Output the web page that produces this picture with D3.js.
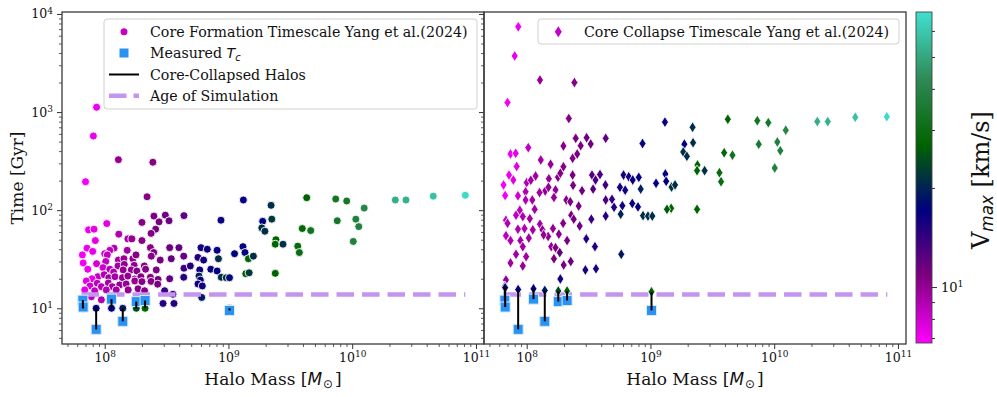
<!DOCTYPE html>
<html><head><meta charset="utf-8">
<script src="https://cdn.jsdelivr.net/npm/d3@7"></script>
<style>body{margin:0;background:#fff}svg{display:block}</style>
</head><body>
<svg id="chart" width="997" height="397"></svg>
<script>
// ---------------- DATA ----------------
// Left panel: core formation timescale (mass in 1e8 Msun, time in Gyr, Vmax in km/s)
const formMassE8 = [
 0.86,0.81,1.29,2.45,0.70,2.20,13.2,2.50,3.09,4.37,
 2.00,2.75,3.31,1.04,8.70,0.74,0.82,2.58,1.30,2.37,
 0.84,1.54,1.66,2.00,0.72,0.80,1.19,1.10,1.52,2.34,
 2.49,3.35,3.98,6.00,6.75,8.10,13.1,13.6,14.5,8.30,
 11.2,0.66,1.00,1.05,1.29,1.43,1.69,1.79,2.38,3.45,
 4.35,5.67,6.30,0.67,0.86,1.02,1.28,1.44,1.73,2.09,
 2.81,0.73,0.97,1.10,1.18,1.41,1.64,1.82,2.14,2.61,
 4.37,4.92,5.86,7.20,8.10,13.8,0.88,0.79,0.71,0.99,
 1.08,1.21,1.39,1.54,1.75,1.96,2.34,2.70,3.35,4.35,
 5.78,5.93,8.75,9.60,10.2,0.87,0.76,0.94,1.07,1.15,
 1.32,1.49,1.75,2.00,2.37,2.68,5.67,6.15,0.69,0.83,
 1.03,1.24,1.55,1.86,2.10,3.05,3.56,6.08,0.78,0.94,
 2.96,3.63,22.1,22.4,18.9,18.6,19.7,42.9,39.5,46.2,
 73.6,90.3,125,75.7,107,113,102,223,272,452,
 820,15.9,24.2,23.9,27.6,36.3,37.4,14.7,23.9];
const formTime = [
 1120,570,327,308,195,137,127,87,89,88,
 75,76,78,73,79,63,64,64,57,58,
 49,51,51,49,41,38,41,39,39,41.5,
 37,41.5,41.5,41.5,40,39,42.5,37,32,32,
 36,35,36,35,31,32,32,35,34,32,
 34,33,31,29,28.5,30,27,28,27.4,27,
 31,25,26,25,23.4,24.6,24.6,24,25,24.6,
 25.6,27,24.6,25,24,22.5,21,20,19,22,
 20.5,21,20.5,21.3,19.9,21,20.7,19.7,20,20.7,
 21.3,19.4,20.7,20.5,20.5,18,16.9,16.6,18.1,16.6,
 17.3,17.7,19,18.7,18.8,17.6,17.7,16.9,15.4,15.1,
 15.4,15.4,15.4,15.8,15.1,15.1,13.9,12.9,13.1,12.2,
 11.2,11.2,112,81,77,66,61,134,65,62,
 130,124,105,78,81,68,48,127,127,139,
 142,34,50,45,45,43,37,23,22.7];
const formVmax = [
 7.2,7.3,10,10.5,7,10.5,16.5,11,11.5,12,
 10.5,11,11.5,7.5,16.5,7.2,7.4,11,9,10.5,
 7.4,9.5,10,10.5,7.2,7.4,9,8.5,9.5,10.5,
 11,11.5,12,16,16.5,16.5,17,17,27,21,
 17,7,8,8.5,9.5,10,10,10.5,10.5,12,
 12,15,16,7,8,8.5,9.5,10,10,10.5,
 11,7.2,8,9,9,10,10,10.5,10.5,11,
 14,15,16,16.5,17,27,8.5,7.5,7.5,9,
 9.5,9.5,10,10,10,10.5,10.5,11,12,15,
 20,17,21,21,18,8.5,8,9,9.5,9.5,
 10,10,10,10.5,10.5,11,16,16,7.5,8.5,
 9,9.5,10,10.5,10.5,14,14,19,8.5,9,
 15,15,21,22,17,21,21,27,28,32,
 33,34,40,34,38,38,38,52,53,58,
 66,21,27,27,21,29,30,22,27];

// Right panel: core collapse timescale
const collMassE8 = [
 0.855,0.80,1.28,2.43,0.70,2.19,13.1,21.9,42.2,73,
 89.6,124,223,271,452,813,8.63,18.8,22.1,18.4,
 19.7,39.4,46,75,106,112,101,24,23.8,27.4,
 36.1,37.2,14.8,15.8,14.7,23.8,11.1,13.2,13.4,4.35,
 3.05,3.29,2.49,2.73,1.98,2.35,2.56,1.03,0.74,0.815,
 0.83,1.3,1.56,1.98,0.72,0.78,0.65,0.67,1.0,1.08,
 1.18,1.51,1.79,1.87,2.35,3.37,3.6,3.91,4.33,6.06,
 6.68,7.19,8.05,5.67,6.25,8.34,1.71,1.66,1.41,1.27,
 0.98,0.98,1.11,1.16,0.88,0.82,0.68,0.70,0.93,1.06,
 2.37,2.8,3.44,0.85,4.35,4.89,5.08,5.93,7.13,7.93,
 5.75,8.71,9.55,10.35,13.6,2.09,2.25,2.63,3.33,4.35,
 2.29,2.4,2.68,1.97,1.82,2.12,1.63,1.49,1.58,1.71,
 1.28,1.34,1.37,1.12,1.04,0.96,0.85,0.68,0.74,0.89,
 0.93,0.82,0.99,0.74,0.93,1.66,1.85,1.99,2.27,3.03,
 3.56,2.98,3.63,5.81,0.68,1.87,1.5];
const collTime = [
 7400,3730,2120,2000,1250,860,790,700,845,817,
 780,654,800,800,885,897,478,471,487,392,
 354,385,364,470,495,404,269,289,253,253,
 241,195,172,181,104.5,102,188,234,197,540,
 548,473,540,454,451,338,374,434,374,380,
 279,325,294,277,228,203,181,141,191,202,
 223,209,217,238,228,228,203,231,181,228,
 219,203,216,171,160,164,161,135,157,151,
 154,127,127,102,100,89,79,73.5,86,82,
 179,158,164,140,127,129,107,111,117,108,
 91,88,87,87,102,127,122,110,81,87,
 89,81,69,73.5,57,49,65,54,42.5,41.5,
 72,63,56,63,52,65,64,55,49,49,
 42.5,35.5,33.6,29,27,32,37,27.6,30,51,
 42.5,24.6,25.3,35.5,19.4,19.9,171];
const collVmax = [
 7.2,7.3,10,10.5,7,10.5,16.5,21,27,33,
 34,40,52,53,58,66,16.5,17,21,21,
 21,28,32,35,38,38,38,27,27,21,
 29,30,22,21,27,27,17,17,17,12,
 11.5,11.5,11,11,10.5,10.5,11,8.5,7.3,7.5,
 7.5,9.5,10,10.5,7.3,7.5,7,7,9,9.5,
 9.5,10,10.5,10.5,11,12.5,13,13,13.5,16,
 16,16.5,16.5,16,16,20,10,10,10,9.5,
 9,9,9.5,9.5,8.5,8.5,8.5,9,9,9.5,
 11,11.5,12.5,8,13,14,15,16,16.5,16.5,
 20,21,21,21,26,10.5,11,11,14,15,
 11,11,11.5,10.5,10.5,11,10,10,10,10.5,
 9.5,10,10,9.5,9.5,9,9,8.5,9,9.5,
 9.5,9.5,9.5,9.5,10,11,12,11,11.5,15,
 15,15.5,15.5,19,10,16,10];

// Core-collapsed halos
const ccMassE8     = [0.666, 0.67, 0.853, 1.135, 1.40, 1.80, 2.12, 10.2];
const ccFormTime   = [10, 10, 10, 10, 10, 10, 10, 10];
const ccCollTime   = [16.7, 16.2, 15.5, 15.8, 15.2, 15.0, 15.0, 14.7];
const ccMeasuredTc = [12.1, 10.3, 6.1, 12.4, 7.36, 11.7, 12.0, 9.5];
const ccVmax       = [18, 18, 17, 17, 19, 24, 27, 27];

const ageOfSimulation = 13.8; // Gyr

const xTickValues = [1e8, 1e9, 1e10, 1e11];
const yTickValues = [1e1, 1e2, 1e3, 1e4];
const cbarTickValues = [10];
const vmaxRange = [6.76, 68.5];
const cmapColors = ["#ff00ff", "#800080", "#000080", "#006400", "#2e8b57", "#40e0d0"];

const legendLeft = ["Core Formation Timescale Yang et al.(2024)", "Measured", "Core-Collapsed Halos", "Age of Simulation"];
const legendRight = ["Core Collapse Timescale Yang et al.(2024)"];

// ---------------- LAYOUT ----------------
const SERIF = "'DejaVu Serif', serif";
const SANS = "'DejaVu Sans', sans-serif";
const plotTop = 12, plotW = 422, plotH = 332;
const panelLeftX = [62, 484];
const svg = d3.select("#chart");

const x = d3.scaleLog().domain([Math.pow(10, 7.655), Math.pow(10, 11.065)]).range([0, plotW]);
const y = d3.scaleLog().domain([Math.pow(10, 0.636), Math.pow(10, 4.02)]).range([plotH, 0]);

const cNorm = d3.scaleLog().domain(vmaxRange).range([0, 1]).clamp(true);
const cInterp = d3.scaleLinear().domain(d3.range(cmapColors.length).map(i => i / (cmapColors.length - 1)))
  .range(cmapColors).interpolate(d3.interpolateRgb);
const color = v => cInterp(cNorm(v));

function minorTicks(scale) {
  const [a, b] = scale.domain();
  const out = [];
  for (let d = Math.floor(Math.log10(a)); d <= Math.ceil(Math.log10(b)); d++)
    for (let k = 2; k <= 9; k++) { const v = k * Math.pow(10, d); if (v >= a && v <= b) out.push(v); }
  return out;
}
function powLabel(sel) {
  sel.each(function(d) {
    const t = d3.select(this); t.text(null);
    t.append("tspan").text("10");
    t.append("tspan").attr("dy", "-0.5em").attr("font-size", "0.72em").text(Math.round(Math.log10(d)));
  });
}

const formData = formMassE8.map((m, i) => ({m: m * 1e8, t: formTime[i], v: formVmax[i]}));
const collData = collMassE8.map((m, i) => ({m: m * 1e8, t: collTime[i], v: collVmax[i]}));
const ccData = ccMassE8.map((m, i) => ({m: m * 1e8, tf: ccFormTime[i], tc: ccCollTime[i], tm: ccMeasuredTc[i], v: ccVmax[i]}));
const massExtent = d3.extent(formData.concat(collData), d => d.m);

const diamond = "M0,-5.5L3.5,0L0,5.5L-3.5,0Z";

function drawPanel(px, data, isLeft) {
  const g = svg.append("g").attr("transform", `translate(${px},${plotTop})`);
  // x axis major/minor
  const xa = g.append("g").attr("transform", `translate(0,${plotH})`)
    .call(d3.axisBottom(x).tickValues(minorTicks(x)).tickSize(3).tickFormat(""));
  xa.select(".domain").remove();
  xa.selectAll("line").attr("stroke", "#333").attr("stroke-width", 0.8);
  const xb = g.append("g").attr("transform", `translate(0,${plotH})`)
    .call(d3.axisBottom(x).tickValues(xTickValues).tickSize(5).tickPadding(4));
  xb.select(".domain").remove();
  xb.selectAll("line").attr("stroke", "#333").attr("stroke-width", 1);
  xb.selectAll("text").attr("font-family", SERIF).attr("font-size", 12.5).attr("fill", "#111").call(powLabel);
  // y axis
  const ya = g.append("g").call(d3.axisLeft(y).tickValues(minorTicks(y)).tickSize(3).tickFormat(""));
  ya.select(".domain").remove();
  ya.selectAll("line").attr("stroke", "#333").attr("stroke-width", 0.8);
  const yb = g.append("g").call(d3.axisLeft(y).tickValues(yTickValues).tickSize(5).tickPadding(4)
    .tickFormat(isLeft ? null : ""));
  yb.select(".domain").remove();
  yb.selectAll("line").attr("stroke", "#333").attr("stroke-width", 1);
  if (isLeft) yb.selectAll("text").attr("font-family", SERIF).attr("font-size", 12.5).attr("fill", "#111").call(powLabel);

  // scatter
  if (isLeft) {
    g.append("g").selectAll("circle").data(data).join("circle")
      .attr("cx", d => x(d.m)).attr("cy", d => y(d.t)).attr("r", 4)
      .attr("fill", d => color(d.v)).attr("stroke", "#fff").attr("stroke-width", 0.9);
  } else {
    g.append("g").selectAll("path").data(data).join("path")
      .attr("d", diamond).attr("transform", d => `translate(${x(d.m)},${y(d.t)})`)
      .attr("fill", d => color(d.v)).attr("stroke", "#fff").attr("stroke-width", 0.8);
  }

  // age of simulation
  g.append("line")
    .attr("x1", x(massExtent[0])).attr("x2", x(massExtent[1]))
    .attr("y1", y(ageOfSimulation)).attr("y2", y(ageOfSimulation))
    .attr("stroke", "#c495f0").attr("stroke-width", 4.5).attr("stroke-dasharray", "17.5,8");

  // collapsed halo markers, measured Tc squares, connecting lines
  const key = isLeft ? "tf" : "tc";
  if (isLeft) {
    g.append("g").selectAll("circle").data(ccData).join("circle")
      .attr("cx", d => x(d.m)).attr("cy", d => y(d[key])).attr("r", 4)
      .attr("fill", d => color(d.v)).attr("stroke", "#fff").attr("stroke-width", 0.9);
  } else {
    g.append("g").selectAll("path").data(ccData).join("path")
      .attr("d", diamond).attr("transform", d => `translate(${x(d.m)},${y(d[key])})`)
      .attr("fill", d => color(d.v)).attr("stroke", "#fff").attr("stroke-width", 0.8);
  }
  g.append("g").selectAll("rect").data(ccData).join("rect")
    .attr("x", d => x(d.m) - 5).attr("y", d => y(d.tm) - 5).attr("width", 10).attr("height", 10)
    .attr("fill", "#2a92f2").attr("stroke", "#d6eafc").attr("stroke-width", 1);
  g.append("g").selectAll("line").data(ccData).join("line")
    .attr("x1", d => x(d.m)).attr("x2", d => x(d.m))
    .attr("y1", d => y(d[key])).attr("y2", d => y(d.tm))
    .attr("stroke", "#000").attr("stroke-width", 2);

  // spine
  g.append("rect").attr("width", plotW).attr("height", plotH)
    .attr("fill", "none").attr("stroke", "#3a3a3a").attr("stroke-width", 1.3);

  // x label
  const xl = g.append("text").attr("x", plotW / 2 - 0).attr("y", plotH + 41)
    .attr("text-anchor", "middle").attr("font-family", SERIF).attr("font-size", 17).attr("fill", "#111");
  xl.append("tspan").text("Halo Mass [");
  xl.append("tspan").attr("font-family", SANS).attr("font-style", "italic").text("M");
  xl.append("tspan").attr("font-family", SANS).attr("font-size", "0.7em").attr("dy", "0.25em").attr("dx", "1").text("\u2299");
  xl.append("tspan").attr("dy", "-0.18em").attr("dx", "2").text("]");

  // legend
  const lg = g.append("g");
  if (isLeft) {
    lg.append("rect").attr("x", 42).attr("y", 7).attr("width", 373).attr("height", 90).attr("rx", 3)
      .attr("fill", "#fff").attr("fill-opacity", 0.85).attr("stroke", "#d0d0d0");
    const rows = [19.7, 41, 62.5, 83.7];
    lg.append("circle").attr("cx", 62).attr("cy", rows[0]).attr("r", 3.5).attr("fill", "#c800c8");
    lg.append("rect").attr("x", 57.5).attr("y", rows[1] - 4.5).attr("width", 9).attr("height", 9).attr("fill", "#2a92f2");
    lg.append("line").attr("x1", 47).attr("x2", 77).attr("y1", rows[2]).attr("y2", rows[2]).attr("stroke", "#000").attr("stroke-width", 2);
    lg.append("line").attr("x1", 47).attr("x2", 77).attr("y1", rows[3]).attr("y2", rows[3])
      .attr("stroke", "#c495f0").attr("stroke-width", 4.5).attr("stroke-dasharray", "17.5,7");
    rows.forEach((ry, i) => {
      const t = lg.append("text").attr("x", 88).attr("y", ry).attr("dy", "0.36em")
        .attr("font-family", SERIF).attr("font-size", 14.2).attr("fill", "#111");
      t.append("tspan").text(legendLeft[i]);
      if (i === 1) {
        t.append("tspan").attr("font-family", SANS).attr("font-style", "italic").text(" T");
        t.append("tspan").attr("font-family", SANS).attr("font-style", "italic").attr("font-size", "0.7em").attr("dy", "0.3em").text("c");
      }
    });
  } else {
    lg.append("rect").attr("x", 54).attr("y", 7).attr("width", 361).attr("height", 25).attr("rx", 3)
      .attr("fill", "#fff").attr("fill-opacity", 0.85).attr("stroke", "#d0d0d0");
    lg.append("path").attr("d", diamond).attr("transform", "translate(74.3,19.7)").attr("fill", "#c800c8");
    lg.append("text").attr("x", 100).attr("y", 19.7).attr("dy", "0.36em")
      .attr("font-family", SERIF).attr("font-size", 14.2).attr("fill", "#111").text(legendRight[0]);
  }
  return g;
}

drawPanel(panelLeftX[0], formData, true);
drawPanel(panelLeftX[1], collData, false);

// y label
svg.append("text").attr("transform", `translate(23,${plotTop + plotH / 2}) rotate(-90)`)
  .attr("text-anchor", "middle").attr("font-family", SERIF).attr("font-size", 17).attr("fill", "#111")
  .text("Time [Gyr]");

// ---------------- COLORBAR ----------------
const cbX = 916, cbW = 16, cbH = 331;
const cb = d3.scaleLog().domain(vmaxRange).range([cbH, 0]);
const defs = svg.append("defs");
const grad = defs.append("linearGradient").attr("id", "cbgrad").attr("x1", 0).attr("y1", 1).attr("x2", 0).attr("y2", 0);
d3.range(0, 1.0001, 0.025).forEach(f => {
  const v = cb.invert(cbH * (1 - f));
  grad.append("stop").attr("offset", f).attr("stop-color", color(v));
});
const cbg = svg.append("g").attr("transform", `translate(${cbX},${plotTop})`);
cbg.append("rect").attr("width", cbW).attr("height", cbH).attr("fill", "url(#cbgrad)")
  .attr("stroke", "#444").attr("stroke-width", 0.9);
const cba = cbg.append("g").attr("transform", `translate(${cbW},0)`)
  .call(d3.axisRight(cb).tickValues(minorTicks(cb)).tickSize(3).tickFormat(""));
cba.select(".domain").remove();
cba.selectAll("line").attr("stroke", "#333");
const cbb = cbg.append("g").attr("transform", `translate(${cbW},0)`)
  .call(d3.axisRight(cb).tickValues(cbarTickValues).tickSize(5).tickPadding(4));
cbb.select(".domain").remove();
cbb.selectAll("line").attr("stroke", "#333");
cbb.selectAll("text").attr("font-family", SERIF).attr("font-size", 13).attr("fill", "#111").call(powLabel);

const cl = svg.append("text").attr("transform", `translate(989,${plotTop + 168}) rotate(-90)`)
  .attr("text-anchor", "middle").attr("font-family", SERIF).attr("font-size", 24).attr("fill", "#111");
cl.append("tspan").text("V");
cl.append("tspan").attr("font-family", SANS).attr("font-style", "italic").attr("font-size", "0.7em").attr("dy", "0.25em").text("max");
cl.append("tspan").attr("dy", "-0.18em").text(" [km/s]");
</script>
</body></html>
